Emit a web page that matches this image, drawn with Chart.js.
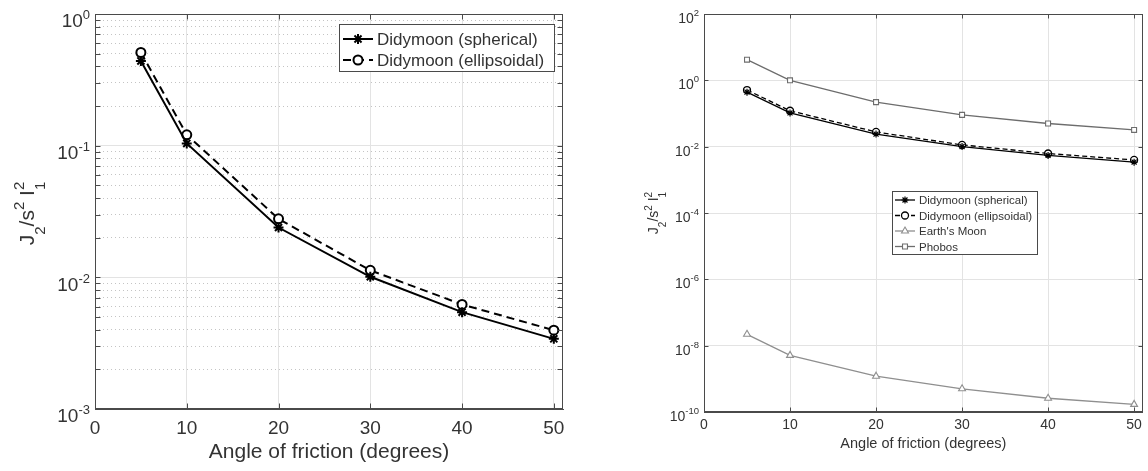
<!DOCTYPE html>
<html>
<head>
<meta charset="utf-8">
<script src="https://cdn.jsdelivr.net/npm/chart.js@4.4.1/dist/chart.umd.min.js"></script>
<style>
  body { margin: 0; background: #fff; }
  .panel { position: absolute; top: 0; height: 471px; }
  #leftPanel { left: 0; width: 590px; }
  #rightPanel { left: 620px; width: 528px; }
</style>
</head>
<body>
<div class="panel" id="leftPanel"><canvas id="leftChart"></canvas></div>
<div class="panel" id="rightPanel"><canvas id="rightChart"></canvas></div>
<script>
// angle of friction (degrees)
const angles = [5, 10, 20, 30, 40, 50];

// J2/s^2 I1^2 values
const sphericalVals   = [0.44, 0.104, 0.0239, 0.0101, 0.00544, 0.00341];
const ellipsoidalVals = [0.51, 0.121, 0.0278, 0.0113, 0.00622, 0.00397];
const earthMoonVals   = [2.2e-8, 5.1e-9, 1.2e-9, 5.0e-10, 2.6e-10, 1.7e-10];
const phobosVals      = [4.2, 1.0, 0.22, 0.091, 0.050, 0.032];

const seriesNames = ["Didymoon (spherical)", "Didymoon (ellipsoidal)", "Earth's Moon", "Phobos"];

const xTicks = [0, 10, 20, 30, 40, 50];
const leftYTicks = [1e-3, 1e-2, 1e-1, 1];
const rightYTicks = [1e-10, 1e-8, 1e-6, 1e-4, 1e-2, 1, 1e2];
const xTitle = "Angle of friction (degrees)";
// pieces of the y title: [text, shift (-1 sub, 1 sup, 0 normal), stacked superscript]
const yTitleParts = [["J", 0], ["2", -1], ["/s", 0], ["2", 1], [" I", 0], ["1", -1, "2"]];

const FONT = "'Liberation Sans', Arial, Helvetica, sans-serif";
const TXT = "#333333";
const AXIS = "#4a4a4a";
const GRID = "#e3e3e3";
const MINOR = "#c4c4c4";

Chart.defaults.font.family = FONT;
Chart.defaults.color = TXT;

// minor decade ticks for the left plot (2..9 x 10^n)
const leftMinor = [];
for (let i = 0; i < leftYTicks.length - 1; i++) {
  for (let m = 2; m <= 9; m++) leftMinor.push(leftYTicks[i] * m);
}

function pts(vals) {
  return angles.map((a, i) => ({ x: a, y: vals[i] }));
}

function drawYTitle(ctx, baseX, cy, size) {
  const big = size + "px " + FONT;
  const small = Math.round(size * 0.7) + "px " + FONT;
  const w = [];
  let total = 0;
  yTitleParts.forEach(p => {
    ctx.font = p[1] === 0 ? big : small;
    const pw = ctx.measureText(p[0]).width;
    w.push(pw);
    total += pw;
  });
  ctx.save();
  ctx.translate(baseX, cy);
  ctx.rotate(-Math.PI / 2);
  ctx.fillStyle = TXT;
  ctx.textBaseline = "alphabetic";
  ctx.textAlign = "left";
  let x = -total / 2;
  yTitleParts.forEach((p, i) => {
    ctx.font = p[1] === 0 ? big : small;
    const dy = p[1] === -1 ? size * 0.55 : p[1] === 1 ? -size * 0.45 : 0;
    ctx.fillText(p[0], x, dy);
    if (p[2]) ctx.fillText(p[2], x, -size * 0.45);
    x += w[i];
  });
  ctx.restore();
}

// MATLAB style box, inward ticks, power-of-ten labels, y title and legend
const matlabFrame = {
  id: "matlabFrame",
  afterDraw(chart, args, o) {
    const { ctx, chartArea: a, scales } = chart;
    const L = Math.round(a.left) + 0.5, R = Math.round(a.right) - 0.5;
    const T = Math.round(a.top) + 0.5, B = Math.round(a.bottom) - 0.5;
    ctx.save();
    ctx.strokeStyle = AXIS;
    ctx.lineWidth = 1;
    ctx.setLineDash([]);
    ctx.strokeRect(L, T, R - L, B - T);

    ctx.beginPath();
    xTicks.forEach(v => {
      const px = Math.round(scales.x.getPixelForValue(v)) + 0.5;
      ctx.moveTo(px, B); ctx.lineTo(px, B - o.tick);
      ctx.moveTo(px, T); ctx.lineTo(px, T + o.tick);
    });
    o.yTicks.concat(o.minor || []).forEach(v => {
      const py = Math.round(scales.y.getPixelForValue(v)) + 0.5;
      ctx.moveTo(L, py); ctx.lineTo(L + o.tick, py);
      ctx.moveTo(R, py); ctx.lineTo(R - o.tick, py);
    });
    ctx.stroke();

    // 10^n labels
    ctx.fillStyle = TXT;
    ctx.textAlign = "left";
    ctx.textBaseline = "alphabetic";
    o.yTicks.forEach(v => {
      const py = scales.y.getPixelForValue(v);
      const e = String(Math.round(Math.log10(v)));
      ctx.font = o.expSize + "px " + FONT;
      const ew = ctx.measureText(e).width;
      ctx.font = o.baseSize + "px " + FONT;
      const bw = ctx.measureText("10").width;
      const right = a.left - o.labelGap;
      ctx.fillText("10", right - ew - bw, py + o.baseDy);
      ctx.font = o.expSize + "px " + FONT;
      ctx.fillText(e, right - ew, py + o.expDy);
    });

    drawYTitle(ctx, o.titleX, (a.top + a.bottom) / 2 + o.titleDy, o.titleSize);

    // legend box
    const lg = o.legend;
    ctx.fillStyle = "#fff";
    ctx.fillRect(lg.x, lg.y, lg.w, lg.h);
    ctx.strokeStyle = AXIS;
    ctx.lineWidth = 1;
    ctx.strokeRect(lg.x + 0.5, lg.y + 0.5, lg.w, lg.h);
    chart.data.datasets.forEach((ds, i) => {
      const cy = lg.y + lg.first + i * lg.row;
      const x0 = lg.x + lg.pad, x1 = x0 + lg.sample;
      ctx.strokeStyle = ds.borderColor;
      ctx.lineWidth = ds.borderWidth;
      ctx.setLineDash(ds.borderDash || []);
      ctx.beginPath();
      ctx.moveTo(x0, cy); ctx.lineTo(x1, cy);
      ctx.stroke();
      ctx.setLineDash([]);
      ctx.fillStyle = ds.pointBackgroundColor;
      ctx.strokeStyle = ds.pointBorderColor;
      ctx.lineWidth = ds.pointBorderWidth;
      Chart.helpers.drawPoint(ctx, {
        pointStyle: ds.pointStyle, radius: ds.pointRadius,
        rotation: 0, borderWidth: ds.pointBorderWidth
      }, (x0 + x1) / 2, cy);
      ctx.fillStyle = TXT;
      ctx.font = lg.font + "px " + FONT;
      ctx.textBaseline = "middle";
      ctx.fillText(ds.label, x1 + lg.textGap, cy + 1);
    });
    ctx.restore();
  }
};

function series(label, vals, color, style, opts) {
  return Object.assign({
    label: label,
    data: pts(vals),
    borderColor: color,
    pointBorderColor: color,
    pointBackgroundColor: "#fff",
    pointStyle: style,
    tension: 0,
    fill: false
  }, opts);
}

function scalesFor(p) {
  const s = {
    x: {
      type: "linear", min: 0, max: 51,
      afterBuildTicks: sc => { sc.ticks = xTicks.map(v => ({ value: v })); },
      afterFit: sc => { sc.height = p.xHeight; },
      grid: { color: GRID, drawTicks: false },
      border: { color: AXIS },
      ticks: { color: TXT, padding: p.xPad, maxRotation: 0, font: { size: p.xFont } },
      title: { display: true, text: xTitle, color: TXT, font: { size: p.titleFont },
               padding: { top: 0, bottom: p.titlePad } }
    },
    y: {
      type: "logarithmic", min: p.yTicks[0], max: p.yTicks[p.yTicks.length - 1],
      afterBuildTicks: sc => { sc.ticks = p.yTicks.map(v => ({ value: v })); },
      afterFit: sc => { sc.width = p.yWidth; },
      grid: { color: GRID, drawTicks: false },
      border: { color: AXIS },
      ticks: { display: false }
    }
  };
  if (p.minor) {
    s.yMinor = {
      type: "logarithmic", position: "left",
      min: p.yTicks[0], max: p.yTicks[p.yTicks.length - 1],
      afterBuildTicks: sc => { sc.ticks = p.minor.map(v => ({ value: v })); },
      afterFit: sc => { sc.width = 0; },
      grid: { color: MINOR, drawTicks: false },
      border: { display: false, dash: [1, 3] },
      ticks: { display: false }
    };
  }
  return s;
}

new Chart(document.getElementById("leftChart"), {
  type: "line",
  data: {
    datasets: [
      series(seriesNames[0], sphericalVals, "#000", "star",
        { borderWidth: 2, pointRadius: 5, pointBorderWidth: 2 }),
      series(seriesNames[1], ellipsoidalVals, "#000", "circle",
        { borderWidth: 2, borderDash: [8, 5], pointRadius: 4.5, pointBorderWidth: 2 })
    ]
  },
  options: {
    responsive: true,
    maintainAspectRatio: false,
    animation: false,
    events: [],
    layout: { padding: { left: 0, top: 14, right: 27, bottom: 0 } },
    scales: scalesFor({ yTicks: leftYTicks, minor: leftMinor, xHeight: 62, yWidth: 95,
                        xPad: 8, xFont: 19, titleFont: 21, titlePad: 6 }),
    plugins: {
      legend: { display: false },
      tooltip: { enabled: false },
      matlabFrame: {
        tick: 5, yTicks: leftYTicks, minor: leftMinor,
        baseSize: 19, expSize: 13, baseDy: 13.3, expDy: 5.3, labelGap: 5,
        titleX: 33.5, titleDy: 2, titleSize: 21,
        legend: { x: 339, y: 24, w: 215, h: 47, first: 15, row: 21, pad: 4,
                  sample: 30, textGap: 4, font: 17 }
      }
    }
  },
  plugins: [matlabFrame]
});

new Chart(document.getElementById("rightChart"), {
  type: "line",
  data: {
    datasets: [
      series(seriesNames[0], sphericalVals, "#000", "star",
        { borderWidth: 1.3, pointRadius: 3.5, pointBorderWidth: 1.2 }),
      series(seriesNames[1], ellipsoidalVals, "#000", "circle",
        { borderWidth: 1.3, borderDash: [5, 3], pointRadius: 3.5, pointBorderWidth: 1.3 }),
      series(seriesNames[2], earthMoonVals, "#8f8f8f", "triangle",
        { borderWidth: 1.3, pointRadius: 4, pointBorderWidth: 1.1 }),
      series(seriesNames[3], phobosVals, "#6d6d6d", "rect",
        { borderWidth: 1.3, pointRadius: 3.5, pointBorderWidth: 1.1 })
    ]
  },
  options: {
    responsive: true,
    maintainAspectRatio: false,
    animation: false,
    events: [],
    layout: { padding: { left: 0, top: 14, right: 4, bottom: 0 } },
    scales: scalesFor({ yTicks: rightYTicks, xHeight: 59, yWidth: 84,
                        xPad: 5, xFont: 14, titleFont: 14.5, titlePad: 18 }),
    plugins: {
      legend: { display: false },
      tooltip: { enabled: false },
      matlabFrame: {
        tick: 4, yTicks: rightYTicks,
        baseSize: 14, expSize: 9.5, baseDy: 9, expDy: 2, labelGap: 5,
        titleX: 38, titleDy: 0, titleSize: 14,
        legend: { x: 272, y: 191, w: 145, h: 63, first: 9, row: 15.5, pad: 3,
                  sample: 20, textGap: 4, font: 11.5 }
      }
    }
  },
  plugins: [matlabFrame]
});
</script>
</body>
</html>
